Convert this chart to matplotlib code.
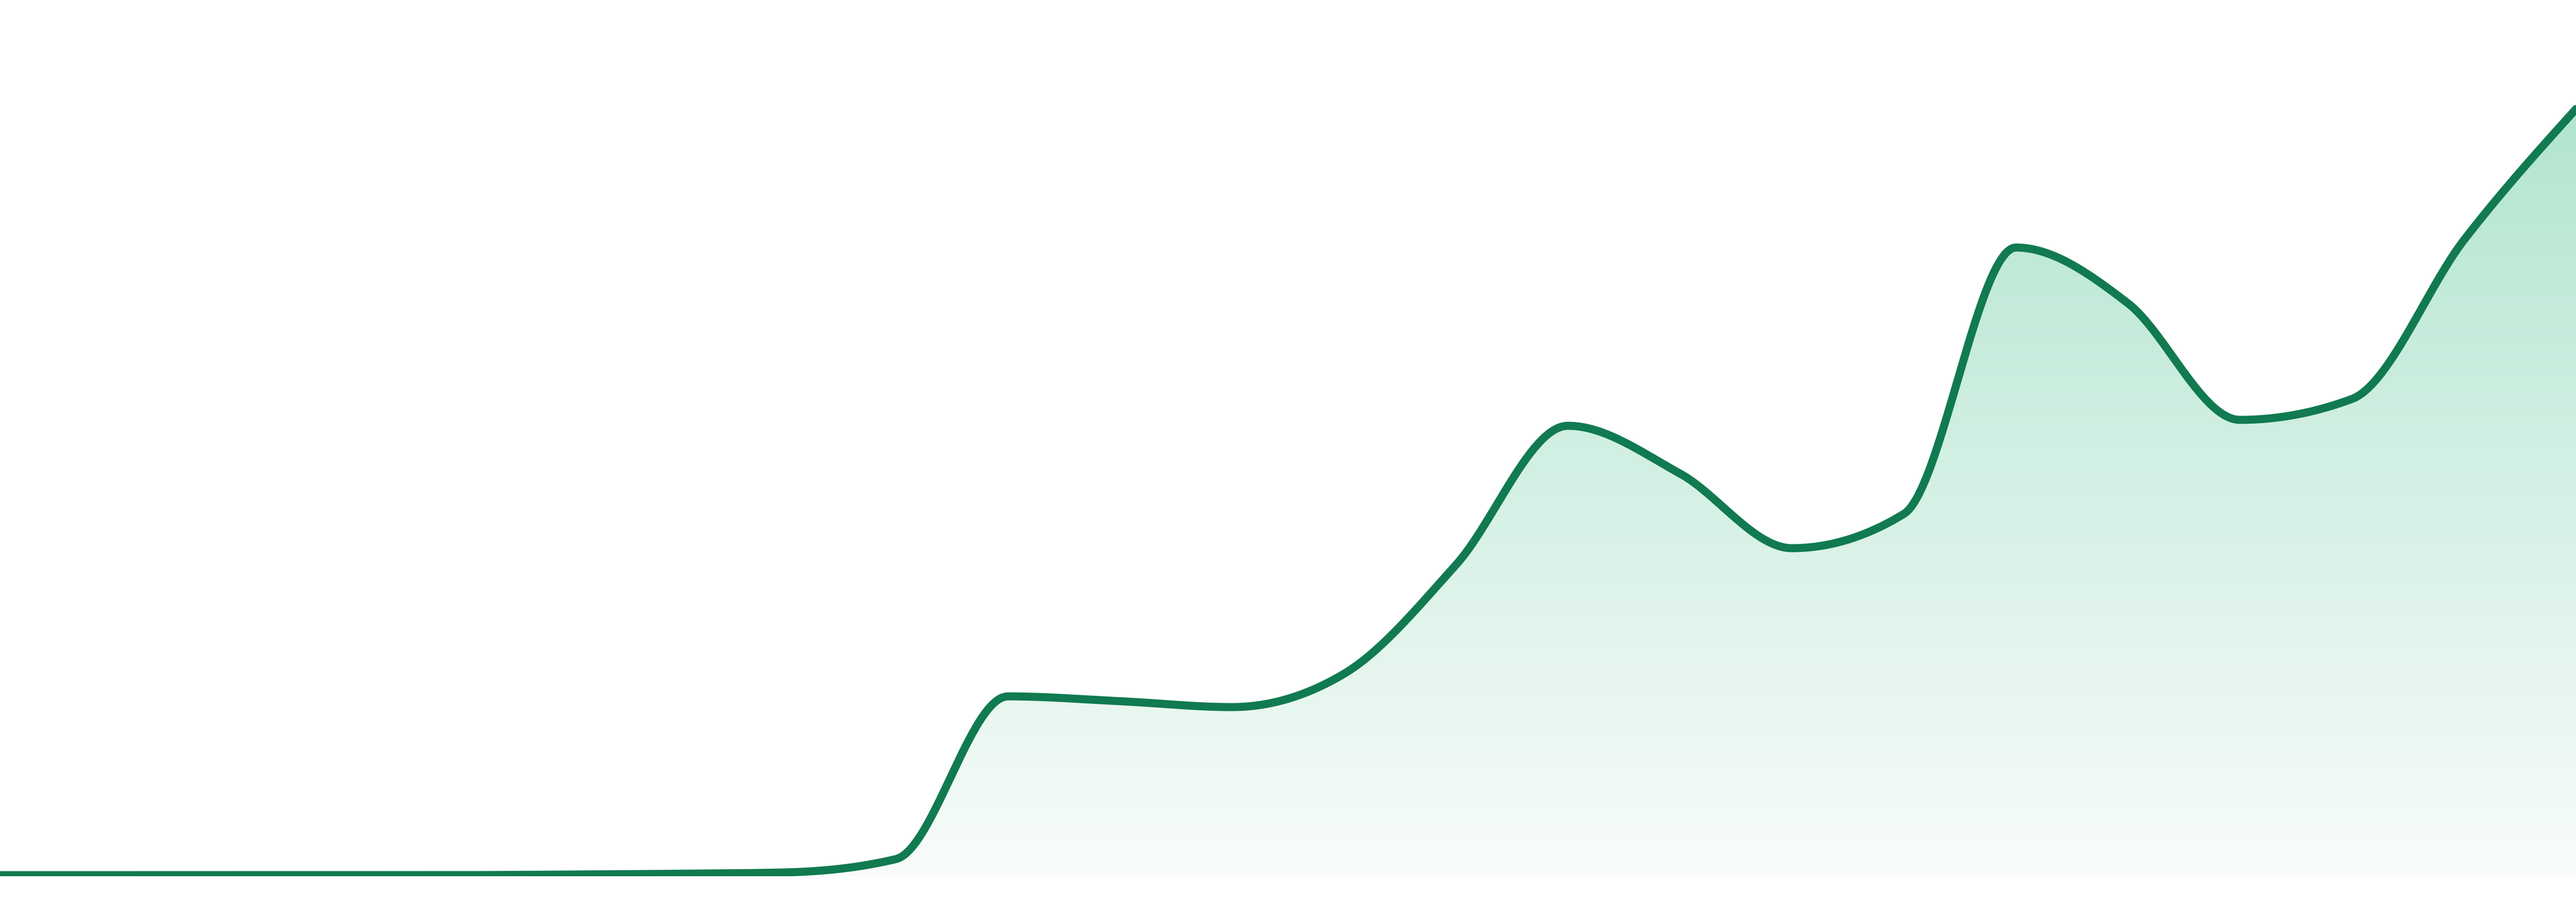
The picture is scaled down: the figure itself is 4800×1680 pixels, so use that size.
import numpy as np
import matplotlib
matplotlib.use('Agg')
import matplotlib.pyplot as plt
from matplotlib.colors import LinearSegmentedColormap

# values (24 evenly spaced samples)
idx = np.arange(24)
values = [0, 0, 0, 0, 0, 1, 2.5, 5, 30, 333, 324, 313,
          375, 578, 837, 748, 609, 673, 1169, 1065, 848, 887, 1183, 1427]

line_color = '#117a50'
fill_top = '#b2e5d0'
fill_bottom = '#f8fcfa'


def monotone_curve(x, y, steps=60):
    """monotone cubic interpolation (same rule as d3 curveMonotoneX)"""
    x = np.asarray(x, float)
    y = np.asarray(y, float)
    h = np.diff(x)
    s = np.diff(y) / h
    n = len(x)
    t = np.zeros(n)
    for i in range(1, n - 1):
        p = (s[i - 1] * h[i] + s[i] * h[i - 1]) / (h[i - 1] + h[i])
        sg = (1 if s[i - 1] >= 0 else -1) + (1 if s[i] >= 0 else -1)
        t[i] = sg * min(abs(s[i - 1]), abs(s[i]), 0.5 * abs(p))
    t[0] = (3 * s[0] - t[1]) / 2
    t[-1] = (3 * s[-1] - t[-2]) / 2
    xs, ys = [], []
    for i in range(n - 1):
        u = np.linspace(0, 1, steps, endpoint=(i == n - 2))
        h00 = 2 * u**3 - 3 * u**2 + 1
        h10 = u**3 - 2 * u**2 + u
        h01 = -2 * u**3 + 3 * u**2
        h11 = u**3 - u**2
        xs.append(x[i] + u * h[i])
        ys.append(h00 * y[i] + h10 * h[i] * t[i] + h01 * y[i + 1] + h11 * h[i] * t[i + 1])
    return np.concatenate(xs), np.concatenate(ys)


fig = plt.figure(figsize=(16, 5.6), dpi=300)
ax = fig.add_axes([0, 48 / 1680, 1, 1632 / 1680])
ax.axis('off')

cx, cy = monotone_curve(idx, values)

# gradient fill under the curve
poly = ax.fill_between(cx, cy, -2, color='none', lw=0)
cmap = LinearSegmentedColormap.from_list('g', [fill_bottom, fill_top])
grad = np.linspace(0, 1, 256).reshape(-1, 1)
img = ax.imshow(grad, cmap=cmap, origin='lower', aspect='auto',
                extent=[0, 23, -2, max(values)], zorder=1)
img.set_clip_path(poly.get_paths()[0], transform=ax.transData)

ax.plot(cx, cy, color=line_color, lw=3.6, solid_capstyle='round', zorder=3)
ax.set_xlim(0, 23)
ax.set_ylim(-2, 1630)

fig.savefig('out.png', dpi=300, facecolor='white')
